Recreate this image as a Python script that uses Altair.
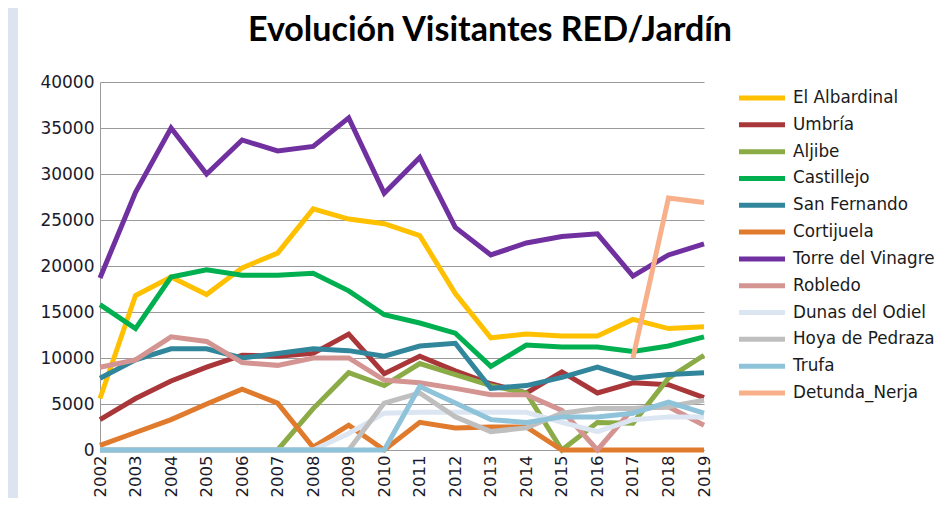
import altair as alt
import pandas as pd

years = [2002, 2003, 2004, 2005, 2006, 2007, 2008, 2009, 2010,
         2011, 2012, 2013, 2014, 2015, 2016, 2017, 2018, 2019]

series_names = ["El Albardinal", "Umbría", "Aljibe", "Castillejo", "San Fernando",
                "Cortijuela", "Torre del Vinagre", "Robledo", "Dunas del Odiel",
                "Hoya de Pedraza", "Trufa", "Detunda_Nerja"]

series_colors = ["#FFC000", "#A9373A", "#8AAB46", "#00B050", "#31869B",
                 "#E07B2E", "#7030A0", "#D49592", "#DCE6F2",
                 "#BFBFBF", "#8EC3DA", "#F7B08A"]

el_albardinal = [5600, 16800, 18800, 16900, 19800, 21400, 26200, 25100, 24600,
                 23300, 17000, 12200, 12600, 12400, 12400, 14200, 13200, 13400]
umbria = [3300, 5600, 7500, 9000, 10300, 10200, 10500, 12600, 8300,
          10200, 8600, 7200, 6200, 8500, 6200, 7300, 7100, 5700]
aljibe = [0, 0, 0, 0, 0, 0, 4500, 8400, 7000,
          9400, 8200, 7000, 6200, 0, 3000, 2900, 7800, 10300]
castillejo = [15800, 13200, 18800, 19600, 19000, 19000, 19200, 17300, 14700,
              13800, 12700, 9100, 11400, 11200, 11200, 10700, 11300, 12300]
san_fernando = [7800, 9800, 11000, 11000, 10000, 10500, 11000, 10800, 10200,
                11300, 11600, 6700, 7000, 7900, 9000, 7800, 8200, 8400]
cortijuela = [500, 1900, 3300, 5000, 6600, 5100, 300, 2700, 0,
              3000, 2400, 2500, 2500, 0, 0, 0, 0, 0]
torre_del_vinagre = [18700, 28000, 35000, 30000, 33700, 32500, 33000, 36100, 27900,
                     31800, 24200, 21200, 22500, 23200, 23500, 18900, 21200, 22400]
robledo = [9000, 9800, 12300, 11800, 9500, 9200, 10000, 10000, 7600,
           7300, 6700, 6000, 6000, 4300, 0, 4500, 4700, 2700]
dunas_del_odiel = [0, 0, 0, 0, 0, 0, 0, 1800, 4000,
                   4100, 4100, 4100, 4100, 3000, 2000, 3300, 3600, 3600]
hoya_de_pedraza = [0, 0, 0, 0, 0, 0, 0, 0, 5100,
                   6200, 3600, 2000, 2400, 4000, 4500, 4500, 4700, 5400]
trufa = [0, 0, 0, 0, 0, 0, 0, 0, 0,
         6900, 5100, 3300, 3000, 3600, 3600, 4000, 5200, 4000]
detunda_nerja = [None, None, None, None, None, None, None, None, None,
                 None, None, None, None, None, None, 10000, 27400, 26900]

y_ticks = [0, 5000, 10000, 15000, 20000, 25000, 30000, 35000, 40000]

all_values = [el_albardinal, umbria, aljibe, castillejo, san_fernando, cortijuela,
              torre_del_vinagre, robledo, dunas_del_odiel, hoya_de_pedraza, trufa,
              detunda_nerja]

rows = []
for name, vals in zip(series_names, all_values):
    for yr, v in zip(years, vals):
        if v is not None:
            rows.append({"Año": str(yr), "Serie": name, "Visitantes": v})
df = pd.DataFrame(rows)

color_scale = alt.Scale(domain=series_names, range=series_colors)

base = alt.Chart(df).mark_line(strokeWidth=5).encode(
    x=alt.X("Año:O", scale=alt.Scale(padding=0), title=None,
            axis=alt.Axis(labelAngle=-90, labelFont="DejaVu Sans", labelFontSize=16.5,
                          labelColor="#1a1a2a", ticks=False, domainColor="#9a9a9a",
                          labelPadding=5, grid=False)),
    y=alt.Y("Visitantes:Q", scale=alt.Scale(domain=[0, 40000]), title=None,
            axis=alt.Axis(values=y_ticks, format="d", labelFont="DejaVu Sans",
                          labelFontSize=17, labelColor="#1a1a2a", ticks=False,
                          domainColor="#9a9a9a", gridColor="#9a9a9a",
                          labelPadding=6)),
    color=alt.Color("Serie:N", scale=color_scale, legend=None),
)

lines = alt.layer(*[base.transform_filter(alt.datum.Serie == s) for s in series_names])

legend_df = pd.DataFrame({"Serie": series_names})
legend_y = alt.Y("Serie:N", sort=series_names,
                 scale=alt.Scale(type="point", range=[16, 311], padding=0), axis=None)
legend_rules = alt.Chart(legend_df).mark_rule(strokeWidth=5).encode(
    y=legend_y, x=alt.value(639), x2=alt.value(685),
    color=alt.Color("Serie:N", scale=color_scale, legend=None),
)
legend_text = alt.Chart(legend_df).mark_text(
    align="left", baseline="middle", font="DejaVu Sans", fontSize=16.8, color="#1a1a1a"
).encode(y=legend_y, x=alt.value(693), text="Serie:N")
legend = alt.layer(legend_rules, legend_text)

strip = alt.Chart(pd.DataFrame({"k": [0]})).mark_rect(color="#DCE4EF").encode(
    x=alt.value(-92), x2=alt.value(-82), y=alt.value(-74), y2=alt.value(416)
)

chart = alt.layer(strip, lines, legend).resolve_scale(y="independent").properties(
    width=604, height=368,
    title=alt.TitleParams("Evolución Visitantes RED/Jardín", font="Lato",
                          fontSize=34, fontWeight="bold", anchor="middle",
                          dx=88, offset=-40, color="#000000"),
    autosize=alt.AutoSizeParams(type="none"),
    padding={"left": 92, "top": 74, "right": 233, "bottom": 48},
).configure_view(stroke=None)

chart.save("out.html", embed_options={"renderer": "svg", "actions": False})
